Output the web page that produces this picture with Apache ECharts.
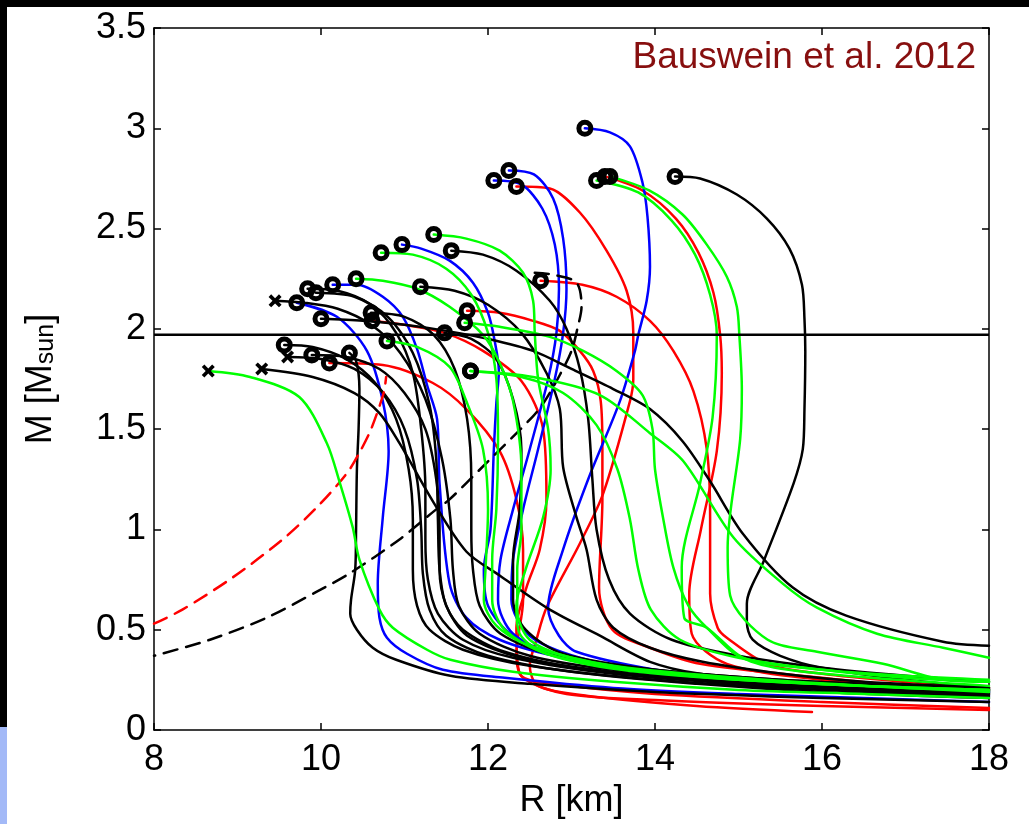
<!DOCTYPE html>
<html><head><meta charset="utf-8">
<script src="https://cdn.jsdelivr.net/npm/echarts@6/dist/echarts.min.js"></script>
<style>html,body{margin:0;padding:0;background:#fff}#c{width:1029px;height:824px}</style>
</head><body><div id="c"></div>
<script>
// ---- data (R [km], M [Msun]) ----
const xTicks = [8, 10, 12, 14, 16, 18];
const yTicks = [0, 0.5, 1, 1.5, 2, 2.5, 3, 3.5];
const obsMass = 1.97;
const titleText = 'Bauswein et al. 2012';

const blackCurves = [
 {mk:'o', pts:[[14.24,2.76],[14.54,2.75],[14.98,2.67],[15.34,2.55],[15.61,2.4],[15.76,2.22],[15.79,2.05],[15.8,1.89],[15.79,1.6],[15.77,1.4],[15.66,1.23],[15.3,0.84],[15.1,0.63],[15.1,0.54],[15.17,0.45],[15.5,0.37],[16,0.31],[17,0.25],[18,0.21]]},
 {mk:'o', pts:[[10.34,1.88],[10.42,1.84],[10.46,1.7],[10.45,1.5],[10.43,1.3],[10.42,1.0],[10.41,0.8],[10.36,0.65],[10.35,0.58],[10.43,0.5],[10.62,0.41],[10.9,0.35],[11.55,0.27],[12.5,0.23],[14,0.19],[16,0.16],[18,0.14]]},
 {mk:'x', pts:[[9.29,1.80],[9.9,1.76],[10.4,1.68],[10.7,1.58],[10.94,1.43],[11.34,1.14],[11.74,0.89],[12.14,0.77],[12.74,0.6],[13.34,0.47],[13.94,0.34],[14.54,0.28],[15.5,0.24],[16.5,0.21],[18,0.18]]},
 {mk:'o', pts:[[9.56,1.92],[9.9,1.91],[10.3,1.85],[10.65,1.73],[10.9,1.55],[11.05,1.3],[11.1,1.05],[11.1,0.8],[11.15,0.62],[11.3,0.5],[11.7,0.4],[12.5,0.32],[14,0.25],[16,0.2],[18,0.17]]},
 {mk:'x', pts:[[9.6,1.86],[10.0,1.85],[10.4,1.8],[10.75,1.68],[11.0,1.5],[11.15,1.25],[11.2,1.0],[11.22,0.78],[11.3,0.6],[11.5,0.47],[12.0,0.37],[13,0.29],[14.5,0.23],[16,0.19],[18,0.16]]},
 {mk:'o', pts:[[9.89,1.87],[10.3,1.86],[10.7,1.8],[11.0,1.68],[11.25,1.5],[11.38,1.25],[11.42,1.0],[11.42,0.8],[11.5,0.62],[11.7,0.5],[12.2,0.39],[13.2,0.3],[14.5,0.25],[16,0.21],[18,0.18]]},
 {mk:'o', pts:[[9.84,2.2],[10.2,2.19],[10.6,2.12],[10.9,1.98],[11.1,1.78],[11.2,1.5],[11.25,1.2],[11.25,0.95],[11.28,0.75],[11.4,0.58],[11.7,0.45],[12.3,0.36],[13.5,0.28],[15,0.23],[16.5,0.2],[18,0.18]]},
 {mk:'o', pts:[[9.94,2.18],[10.4,2.16],[10.8,2.06],[11.1,1.88],[11.3,1.62],[11.38,1.35],[11.4,1.05],[11.42,0.8],[11.5,0.62],[11.75,0.47],[12.4,0.36],[13.5,0.29],[15,0.24],[16.5,0.21],[18,0.19]]},
 {mk:'x', pts:[[9.45,2.14],[9.8,2.13],[10.2,2.1],[10.6,2.02],[10.95,1.88],[11.25,1.65],[11.45,1.35],[11.55,1.05],[11.58,0.8],[11.65,0.62],[11.9,0.48],[12.5,0.37],[13.5,0.3],[15,0.25],[16.5,0.21],[18,0.19]]},
 {mk:'o', pts:[[10.6,2.08],[11.0,2.06],[11.35,1.97],[11.6,1.8],[11.75,1.55],[11.8,1.25],[11.8,1.0],[11.82,0.8],[11.9,0.62],[12.15,0.48],[12.8,0.37],[14,0.3],[15.5,0.25],[17,0.22],[18,0.2]]},
 {mk:'o', pts:[[10.0,2.05],[10.5,2.04],[11.0,2.02],[11.5,1.99],[12.0,1.95],[12.54,1.89],[13.0,1.8],[13.5,1.7],[13.94,1.6],[14.33,1.44],[14.66,1.24],[15.05,0.98],[15.65,0.71],[16.29,0.57],[17.45,0.44],[18,0.42]]},
 {mk:'o', pts:[[11.48,1.98],[11.8,1.95],[12.1,1.85],[12.3,1.65],[12.4,1.4],[12.38,1.1],[12.3,0.85],[12.3,0.65],[12.45,0.5],[12.9,0.38],[14,0.3],[15.5,0.25],[17,0.22],[18,0.21]]},
 {mk:'o', pts:[[11.19,2.21],[11.6,2.19],[12.0,2.12],[12.4,1.98],[12.7,1.78],[12.86,1.6],[12.9,1.31],[13.06,1.06],[13.18,0.9],[13.3,0.65],[13.5,0.51],[13.94,0.41],[14.57,0.34],[15.53,0.28],[16.5,0.24],[18,0.21]]},
 {mk:'o', pts:[[11.56,2.39],[11.94,2.37],[12.34,2.29],[12.74,2.14],[12.94,2.0],[13.1,1.8],[13.2,1.55],[13.25,1.25],[13.3,1.0],[13.45,0.75],[13.7,0.58],[14.2,0.45],[15,0.37],[16,0.31],[17,0.27],[18,0.24]]}
];
const greenCurves = [
 {mk:'x', pts:[[8.65,1.79],[9.15,1.76],[9.74,1.66],[10.07,1.43],[10.22,1.24],[10.38,1.01],[10.46,0.85],[10.7,0.6],[10.86,0.51],[11.27,0.4],[11.55,0.35],[12.3,0.29],[13.5,0.24],[15,0.2],[16.5,0.18],[18,0.16]]},
 {mk:'o', pts:[[10.42,2.25],[10.74,2.24],[11.15,2.2],[11.54,2.11],[11.94,1.97],[12.14,1.83],[12.3,1.64],[12.4,1.3],[12.4,1.0],[12.35,0.8],[12.35,0.6],[12.5,0.45],[13,0.36],[14,0.29],[15.5,0.24],[17,0.21],[18,0.2]]},
 {mk:'o', pts:[[10.72,2.38],[11.1,2.37],[11.5,2.3],[11.8,2.17],[12.0,1.98],[12.1,1.75],[12.12,1.45],[12.1,1.1],[12.05,0.85],[12.05,0.65],[12.2,0.5],[12.7,0.38],[13.7,0.3],[15,0.25],[16.5,0.22],[18,0.2]]},
 {mk:'o', pts:[[11.35,2.47],[11.74,2.45],[12.14,2.39],[12.42,2.28],[12.54,2.14],[12.56,1.98],[12.6,1.75],[12.72,1.5],[12.75,1.3],[12.66,1.06],[12.45,0.8],[12.34,0.62],[12.38,0.48],[12.7,0.38],[13.6,0.3],[15,0.25],[16.5,0.22],[18,0.2]]},
 {mk:'o', pts:[[10.79,1.94],[11.15,1.91],[11.54,1.81],[11.74,1.64],[11.94,1.4],[12.0,1.1],[11.97,0.8],[11.95,0.65],[12.1,0.52],[12.5,0.42],[13.5,0.32],[15,0.26],[16.5,0.22],[18,0.19]]},
 {mk:'o', pts:[[11.72,2.03],[12.14,2.01],[12.74,1.96],[13.14,1.89],[13.54,1.79],[13.85,1.67],[13.97,1.5],[14.0,1.3],[14.1,1.05],[14.22,0.81],[14.4,0.62],[14.62,0.51],[15.05,0.36],[16,0.3],[17,0.26],[18,0.24]]},
 {mk:'o', pts:[[11.79,1.79],[12.54,1.76],[13.34,1.67],[13.94,1.48],[14.34,1.34],[14.94,0.96],[15.53,0.73],[15.94,0.61],[16.66,0.48],[17.45,0.41],[18,0.36]]},
 {mk:'o', pts:[[11.79,1.79],[12.4,1.76],[12.9,1.68],[13.3,1.52],[13.55,1.3],[13.7,1.05],[13.8,0.8],[13.95,0.6],[14.3,0.45],[15,0.36],[16,0.3],[17,0.27],[18,0.25]]},
 {mk:'o', pts:[[13.46,2.76],[13.93,2.69],[14.33,2.57],[14.62,2.42],[14.86,2.26],[14.98,2.11],[15.01,1.97],[15.04,1.7],[15.02,1.45],[14.87,0.91],[14.9,0.67],[15.35,0.45],[15.94,0.39],[16.73,0.33],[17.45,0.25],[18,0.24]]},
 {mk:'o', pts:[[13.3,2.74],[13.8,2.68],[14.2,2.54],[14.48,2.37],[14.66,2.17],[14.74,1.97],[14.69,1.56],[14.54,1.23],[14.32,0.81],[14.35,0.56],[14.62,0.51],[15.05,0.36],[15.6,0.3],[16.9,0.25],[18,0.22]]}
];
const blueCurves = [
 {mk:'o', pts:[[9.71,2.13],[10.19,2.06],[10.55,1.89],[10.74,1.64],[10.81,1.39],[10.74,1.06],[10.68,0.73],[10.7,0.56],[10.79,0.46],[11.03,0.38],[11.46,0.3],[12.2,0.26],[13.5,0.21],[15,0.18],[16.5,0.16],[18,0.14]]},
 {mk:'o', pts:[[10.14,2.22],[10.43,2.22],[10.74,2.16],[10.98,2.06],[11.15,1.9],[11.27,1.72],[11.39,1.55],[11.42,1.23],[11.54,0.73],[11.74,0.56],[12.14,0.45],[12.8,0.37],[13.7,0.31],[15,0.26],[16.5,0.22],[18,0.2]]},
 {mk:'o', pts:[[10.97,2.42],[11.2,2.4],[11.54,2.34],[11.82,2.23],[12.0,2.08],[12.08,1.94],[12.13,1.79],[12.1,1.63],[12.07,1.4],[12.03,1.0],[11.95,0.8],[12.0,0.62],[12.3,0.47],[13,0.35],[14,0.28],[15.5,0.23],[17,0.2],[18,0.19]]},
 {mk:'o', pts:[[12.07,2.74],[12.4,2.72],[12.65,2.6],[12.8,2.42],[12.85,2.2],[12.82,1.98],[12.72,1.75],[12.5,1.4],[12.3,1.1],[12.15,0.85],[12.12,0.65],[12.3,0.48],[12.9,0.36],[14,0.28],[15.5,0.23],[17,0.2],[18,0.19]]},
 {mk:'o', pts:[[12.25,2.79],[12.55,2.77],[12.78,2.65],[12.9,2.45],[12.94,2.2],[12.9,1.98],[12.8,1.75],[12.6,1.4],[12.42,1.1],[12.3,0.85],[12.28,0.65],[12.5,0.47],[13.1,0.36],[14,0.29],[15.5,0.24],[17,0.21],[18,0.2]]},
 {mk:'o', pts:[[13.16,3.0],[13.46,2.98],[13.7,2.91],[13.85,2.73],[13.91,2.56],[13.94,2.31],[13.9,2.14],[13.8,1.97],[13.76,1.89],[13.58,1.64],[13.2,1.25],[12.9,0.9],[12.72,0.61],[12.85,0.47],[13.06,0.39],[14,0.3],[15,0.25],[16,0.21],[17,0.19],[18,0.17]]}
];
const redCurves = [
 {mk:'o', pts:[[12.34,2.71],[12.74,2.7],[13.1,2.58],[13.42,2.39],[13.66,2.19],[13.74,1.98],[13.74,1.75],[13.7,1.64],[13.38,1.18],[13.1,0.93],[12.7,0.61],[12.58,0.45],[12.5,0.32],[12.6,0.22],[13.2,0.17],[14.5,0.12],[15.88,0.09]]},
 {mk:'o', pts:[[12.63,2.24],[13.13,2.22],[13.54,2.16],[13.94,2.04],[14.22,1.89],[14.46,1.69],[14.62,1.4],[14.66,1.06],[14.66,0.68],[14.75,0.51],[14.86,0.46],[15.34,0.33],[16,0.28],[17,0.24],[18,0.21]]},
 {mk:'o', pts:[[13.4,2.76],[13.85,2.69],[14.25,2.55],[14.52,2.38],[14.7,2.18],[14.78,1.97],[14.8,1.78],[14.74,1.39],[14.55,1.0],[14.41,0.68],[14.44,0.48],[14.86,0.33],[16,0.25],[17,0.22],[18,0.2]]},
 {mk:'o', pts:[[11.75,2.09],[12.14,2.08],[12.54,2.04],[12.86,1.99],[13.1,1.89],[13.26,1.79],[13.35,1.64],[13.37,1.4],[13.37,1.15],[13.33,0.71],[13.49,0.5],[13.94,0.41],[14.54,0.33],[16,0.26],[17,0.22],[18,0.2]]},
 {mk:'o', pts:[[10.1,1.83],[10.74,1.82],[11.34,1.73],[11.74,1.6],[12.14,1.39],[12.34,1.15],[12.42,0.9],[12.42,0.65],[12.34,0.38],[12.42,0.26],[12.94,0.18],[14,0.15],[16,0.12],[18,0.1]]},
 {mk:'o', pts:[[10.61,2.04],[11.0,2.02],[11.48,1.98],[11.94,1.89],[12.4,1.74],[12.66,1.5],[12.7,1.15],[12.62,0.9],[12.46,0.71],[12.34,0.51],[12.38,0.28],[13,0.22],[14,0.18],[16,0.14],[18,0.11]]}
];
const blackDashed = [[12.56,2.28],[12.78,2.27],[13.06,2.23],[13.12,2.11],[13.07,2.0],[13.0,1.89],[12.86,1.77],[12.68,1.64],[12.53,1.56],[11.93,1.31],[11.54,1.15],[11.38,1.1],[10.94,0.95],[10.34,0.78],[9.95,0.69],[9.35,0.56],[8.67,0.45],[8.0,0.37]];
const redDashed = [[8.0,0.53],[8.34,0.6],[8.94,0.76],[9.54,0.95],[9.95,1.11],[10.31,1.28],[10.47,1.39],[10.6,1.5],[10.75,1.68],[10.78,1.76]];

// ---- chart ----
const FONT = '"Liberation Sans", Arial, Helvetica, sans-serif';
const chart = echarts.init(document.getElementById('c'), null, {renderer:'canvas'});
const series = [];
const circles = [], crosses = [];
function lineSeries(data, color, z, dash){
  return {type:'line', data:data, showSymbol:false, symbol:'none', silent:true, animation:false, z:z,
    smooth:0.3, smoothMonotone:'none',
    lineStyle:{color:color, width:2.5, type:dash || 'solid', cap:'round', join:'round'}};
}
function addGroup(list, color, z){
  list.forEach(c => {
    series.push(lineSeries(c.pts, color, z));
    (c.mk === 'x' ? crosses : circles).push(c.pts[0]);
  });
}
addGroup(redCurves, '#ff0000', 3);
addGroup(blueCurves, '#0000ff', 4);
addGroup(blackCurves, '#000000', 5);
addGroup(greenCurves, '#00ff00', 6);
series.push(lineSeries(blackDashed, '#000000', 5, [14,9]));
series.push(lineSeries(redDashed, '#ff0000', 5, [14,9]));
series.push({type:'line', data:[[xTicks[0],obsMass],[xTicks[xTicks.length-1],obsMass]], showSymbol:false, symbol:'none', silent:true, animation:false, z:8,
  lineStyle:{color:'#000', width:2.5}});
series.push({type:'scatter', data:circles, symbol:'circle', symbolSize:12, silent:true, animation:false, z:9,
  itemStyle:{color:'rgba(0,0,0,0)', borderColor:'#000', borderWidth:5, opacity:1}});
series.push({type:'scatter', data:crosses, symbol:'path://M2,0 L5,3 L8,0 L10,2 L7,5 L10,8 L8,10 L5,7 L2,10 L0,8 L3,5 L0,2 Z', symbolSize:13, silent:true, animation:false, z:9,
  itemStyle:{color:'#000', opacity:1}});

const axLine = {show:true, onZero:false, lineStyle:{color:'#000', width:1.5}};
const axTick = {show:true, inside:true, length:7, lineStyle:{color:'#000', width:1.5}};
const lblStyle = {fontSize:36, color:'#000', fontFamily:FONT};

chart.setOption({
  backgroundColor:'#fff',
  animation:false,
  grid:{left:154, right:40, top:28, bottom:94, containLabel:false},
  xAxis:[
    {type:'value', min:xTicks[0], max:xTicks[xTicks.length-1], interval:2, position:'bottom',
     axisLine:axLine, axisTick:axTick, splitLine:{show:false},
     axisLabel:Object.assign({margin:12}, lblStyle),
     name:'R [km]', nameLocation:'middle', nameGap:50, nameTextStyle:{fontSize:36, color:'#000', fontFamily:FONT}},
    {type:'value', min:xTicks[0], max:xTicks[xTicks.length-1], interval:2, position:'top',
     axisLine:axLine, axisTick:axTick, axisLabel:{show:false}, splitLine:{show:false}}
  ],
  yAxis:[
    {type:'value', min:yTicks[0], max:yTicks[yTicks.length-1], interval:0.5, position:'left',
     axisLine:axLine, axisTick:axTick, splitLine:{show:false},
     axisLabel:Object.assign({margin:8}, lblStyle),
     name:'{a|M [M}{s|sun}{a|]}', nameLocation:'middle', nameGap:95, nameRotate:90,
     nameTextStyle:{color:'#000', fontFamily:FONT, rich:{
       a:{fontSize:36, fontFamily:FONT, color:'#000', verticalAlign:'bottom', lineHeight:40},
       s:{fontSize:25, fontFamily:FONT, color:'#000', verticalAlign:'bottom', lineHeight:30}}}},
    {type:'value', min:yTicks[0], max:yTicks[yTicks.length-1], interval:0.5, position:'right',
     axisLine:axLine, axisTick:axTick, axisLabel:{show:false}, splitLine:{show:false}}
  ],
  graphic:[
    {type:'rect', shape:{x:0, y:0, width:1029, height:7}, style:{fill:'#000'}, z:100},
    {type:'rect', shape:{x:0, y:0, width:7, height:727}, style:{fill:'#000'}, z:100},
    {type:'rect', shape:{x:0, y:727, width:7, height:97}, style:{fill:'#a3b9f7'}, z:100},
    {type:'text', right:53, top:39, z:100, style:{text:titleText, fontSize:37, fill:'#870f0f', fontFamily:FONT}}
  ],
  series:series
});
</script></body></html>
